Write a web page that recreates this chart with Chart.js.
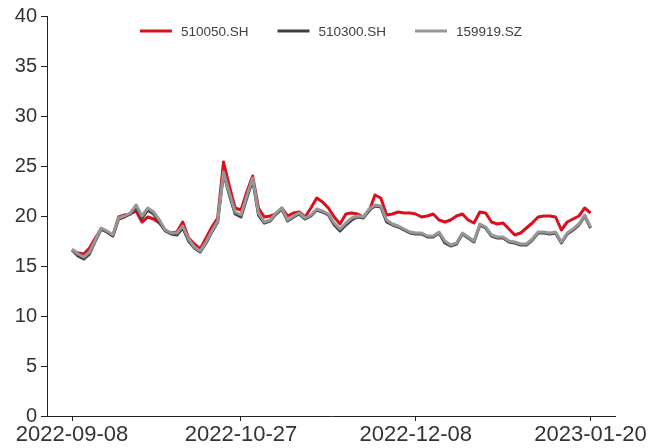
<!DOCTYPE html>
<html>
<head>
<meta charset="utf-8">
<script src="https://cdn.jsdelivr.net/npm/chart.js@4/dist/chart.umd.min.js"></script>
<style>
  html, body { margin: 0; padding: 0; background: #fff; }
  #wrap { width: 662px; height: 448px; }
</style>
</head>
<body>
<div id="wrap"><canvas id="chart-pe" width="662" height="448"></canvas></div>
<script>
// trading days shown on the x axis
const dates = [
  '2022-09-08','2022-09-09','2022-09-13','2022-09-14','2022-09-15','2022-09-16',
  '2022-09-19','2022-09-20','2022-09-21','2022-09-22','2022-09-23',
  '2022-09-26','2022-09-27','2022-09-28','2022-09-29','2022-09-30',
  '2022-10-10','2022-10-11','2022-10-12','2022-10-13','2022-10-14',
  '2022-10-17','2022-10-18','2022-10-19','2022-10-20','2022-10-21',
  '2022-10-24','2022-10-25','2022-10-26','2022-10-27','2022-10-28','2022-10-31',
  '2022-11-01','2022-11-02','2022-11-03','2022-11-04',
  '2022-11-07','2022-11-08','2022-11-09','2022-11-10','2022-11-11',
  '2022-11-14','2022-11-15','2022-11-16','2022-11-17','2022-11-18',
  '2022-11-21','2022-11-22','2022-11-23','2022-11-24','2022-11-25',
  '2022-11-28','2022-11-29','2022-11-30','2022-12-01','2022-12-02',
  '2022-12-05','2022-12-06','2022-12-07','2022-12-08','2022-12-09',
  '2022-12-12','2022-12-13','2022-12-14','2022-12-15','2022-12-16',
  '2022-12-19','2022-12-20','2022-12-21','2022-12-22','2022-12-23',
  '2022-12-26','2022-12-27','2022-12-28','2022-12-29','2022-12-30',
  '2023-01-03','2023-01-04','2023-01-05','2023-01-06',
  '2023-01-09','2023-01-10','2023-01-11','2023-01-12','2023-01-13',
  '2023-01-16','2023-01-17','2023-01-18','2023-01-19','2023-01-20'
];

const s510050 = [
  16.6, 16.3, 16.2, 16.8, 17.8, 18.7, 18.4, 18.0, 19.9, 20.1,
  20.2, 20.5, 19.4, 19.9, 19.7, 19.3, 18.6, 18.3, 18.4, 19.4,
  17.8, 17.2, 16.7, 17.8, 18.9, 19.8, 25.4, 23.0, 20.8, 20.6,
  22.4, 24.0, 20.8, 19.9, 20.0, 20.2, 20.8, 20.0, 20.3, 20.4,
  19.9, 20.8, 21.8, 21.4, 20.8, 19.9, 19.2, 20.2, 20.3, 20.2,
  19.9, 20.5, 22.1, 21.8, 20.1, 20.2, 20.4, 20.3, 20.3, 20.2,
  19.9, 20.0, 20.2, 19.6, 19.4, 19.6, 20.0, 20.2, 19.6, 19.3,
  20.4, 20.3, 19.4, 19.2, 19.3, 18.7, 18.1, 18.3, 18.8, 19.3,
  19.9, 20.0, 20.0, 19.9, 18.6, 19.4, 19.7, 20.0, 20.8, 20.3
];

const s510300 = [
  16.6, 16.0, 15.7, 16.2, 17.5, 18.7, 18.4, 18.0, 19.7, 19.9,
  20.2, 20.9, 19.8, 20.6, 20.2, 19.4, 18.5, 18.2, 18.1, 18.8,
  17.5, 16.8, 16.4, 17.3, 18.4, 19.4, 24.3, 22.1, 20.2, 19.9,
  21.8, 23.6, 20.1, 19.3, 19.5, 20.2, 20.7, 19.5, 19.9, 20.2,
  19.7, 20.0, 20.6, 20.4, 20.1, 19.1, 18.5, 19.1, 19.6, 19.9,
  19.8, 20.6, 21.0, 20.9, 19.4, 19.1, 18.9, 18.6, 18.3, 18.2,
  18.2, 17.9, 17.9, 18.3, 17.3, 17.0, 17.2, 18.2, 17.8, 17.4,
  19.1, 18.8, 18.0, 17.8, 17.8, 17.4, 17.3, 17.1, 17.1, 17.6,
  18.3, 18.3, 18.2, 18.3, 17.3, 18.2, 18.6, 19.1, 20.0, 18.8
];

const s159919 = [
  16.7, 16.2, 15.9, 16.4, 17.6, 18.8, 18.5, 18.1, 19.8, 20.0,
  20.3, 21.1, 20.0, 20.8, 20.4, 19.6, 18.6, 18.3, 18.3, 19.0,
  17.7, 16.9, 16.5, 17.4, 18.5, 19.5, 24.4, 22.3, 20.4, 20.1,
  22.0, 23.8, 20.3, 19.4, 19.6, 20.3, 20.8, 19.6, 20.0, 20.3,
  19.8, 20.1, 20.7, 20.5, 20.2, 19.3, 18.7, 19.3, 19.8, 20.0,
  19.9, 20.7, 21.1, 21.0, 19.6, 19.2, 19.0, 18.7, 18.4, 18.3,
  18.3, 18.0, 18.0, 18.4, 17.5, 17.1, 17.3, 18.3, 17.9, 17.5,
  19.2, 18.9, 18.1, 17.9, 17.9, 17.5, 17.4, 17.2, 17.2, 17.7,
  18.4, 18.4, 18.3, 18.4, 17.4, 18.3, 18.7, 19.2, 20.1, 18.9
];

const seriesNames = ['510050.SH', '510300.SH', '159919.SZ'];
const tickIdx = [0, 29, 59, 89];
const yTicks = [0, 5, 10, 15, 20, 25, 30, 35, 40];

const toPoints = (arr) => arr.map((v, i) => ({ x: i, y: v }));

// legend drawn inside the plot, centred on the canvas
const innerLegend = {
  id: 'innerLegend',
  afterDraw(chart) {
    const ctx = chart.ctx;
    const y = 31;
    const lineW = 32, gap = 9, itemGap = 29;
    ctx.save();
    ctx.font = '13.5px "Liberation Sans", Arial, sans-serif';
    ctx.textBaseline = 'middle';
    const items = chart.data.datasets.map(ds => ({
      label: ds.label, color: ds.borderColor, w: lineW + gap + ctx.measureText(ds.label).width
    }));
    const total = items.reduce((a, b) => a + b.w, 0) + itemGap * (items.length - 1);
    let x = chart.width / 2 - total / 2;
    items.forEach(it => {
      ctx.strokeStyle = it.color;
      ctx.lineWidth = 3;
      ctx.beginPath();
      ctx.moveTo(x, y);
      ctx.lineTo(x + lineW, y);
      ctx.stroke();
      ctx.fillStyle = '#404040';
      ctx.fillText(it.label, x + lineW + gap, y + 1);
      x += it.w + itemGap;
    });
    ctx.restore();
  }
};

const lineDs = (label, data, color, order) => ({
  label: label,
  data: toPoints(data),
  borderColor: color,
  backgroundColor: color,
  borderWidth: 3,
  borderJoinStyle: 'round',
  pointRadius: 0,
  tension: 0,
  order: order
});

new Chart(document.getElementById('chart-pe'), {
  type: 'line',
  data: {
    datasets: [
      lineDs(seriesNames[0], s510050, '#D9101E', 3),
      lineDs(seriesNames[1], s510300, '#404040', 2),
      lineDs(seriesNames[2], s159919, '#979797', 1)
    ]
  },
  options: {
    responsive: false,
    animation: false,
    layout: { padding: { top: 13, right: 47, left: 0, bottom: 0 } },
    scales: {
      x: {
        type: 'linear',
        min: -4.3,
        max: 93.2,
        afterFit: (s) => { s.height = 32; },
        afterBuildTicks: (s) => { s.ticks = tickIdx.map(v => ({ value: v })); },
        grid: { drawOnChartArea: false, drawTicks: true, tickLength: 5, color: '#222' },
        border: { display: true, color: '#222', width: 1 },
        ticks: {
          autoSkip: false,
          maxRotation: 0,
          padding: 1,
          color: '#333',
          font: { family: '"Liberation Sans", Arial, sans-serif', size: 22 },
          callback: (v) => dates[v]
        }
      },
      y: {
        min: 0,
        max: 40,
        afterFit: (s) => { s.width = 47; },
        afterBuildTicks: (s) => { s.ticks = yTicks.map(v => ({ value: v })); },
        grid: { drawOnChartArea: false, drawTicks: true, tickLength: 6, color: '#222' },
        border: { display: true, color: '#222', width: 1 },
        ticks: {
          padding: 4,
          color: '#333',
          font: { family: '"Liberation Sans", Arial, sans-serif', size: 20 }
        }
      }
    },
    plugins: {
      legend: { display: false },
      tooltip: { enabled: false }
    }
  },
  plugins: [innerLegend]
});
</script>
</body>
</html>
